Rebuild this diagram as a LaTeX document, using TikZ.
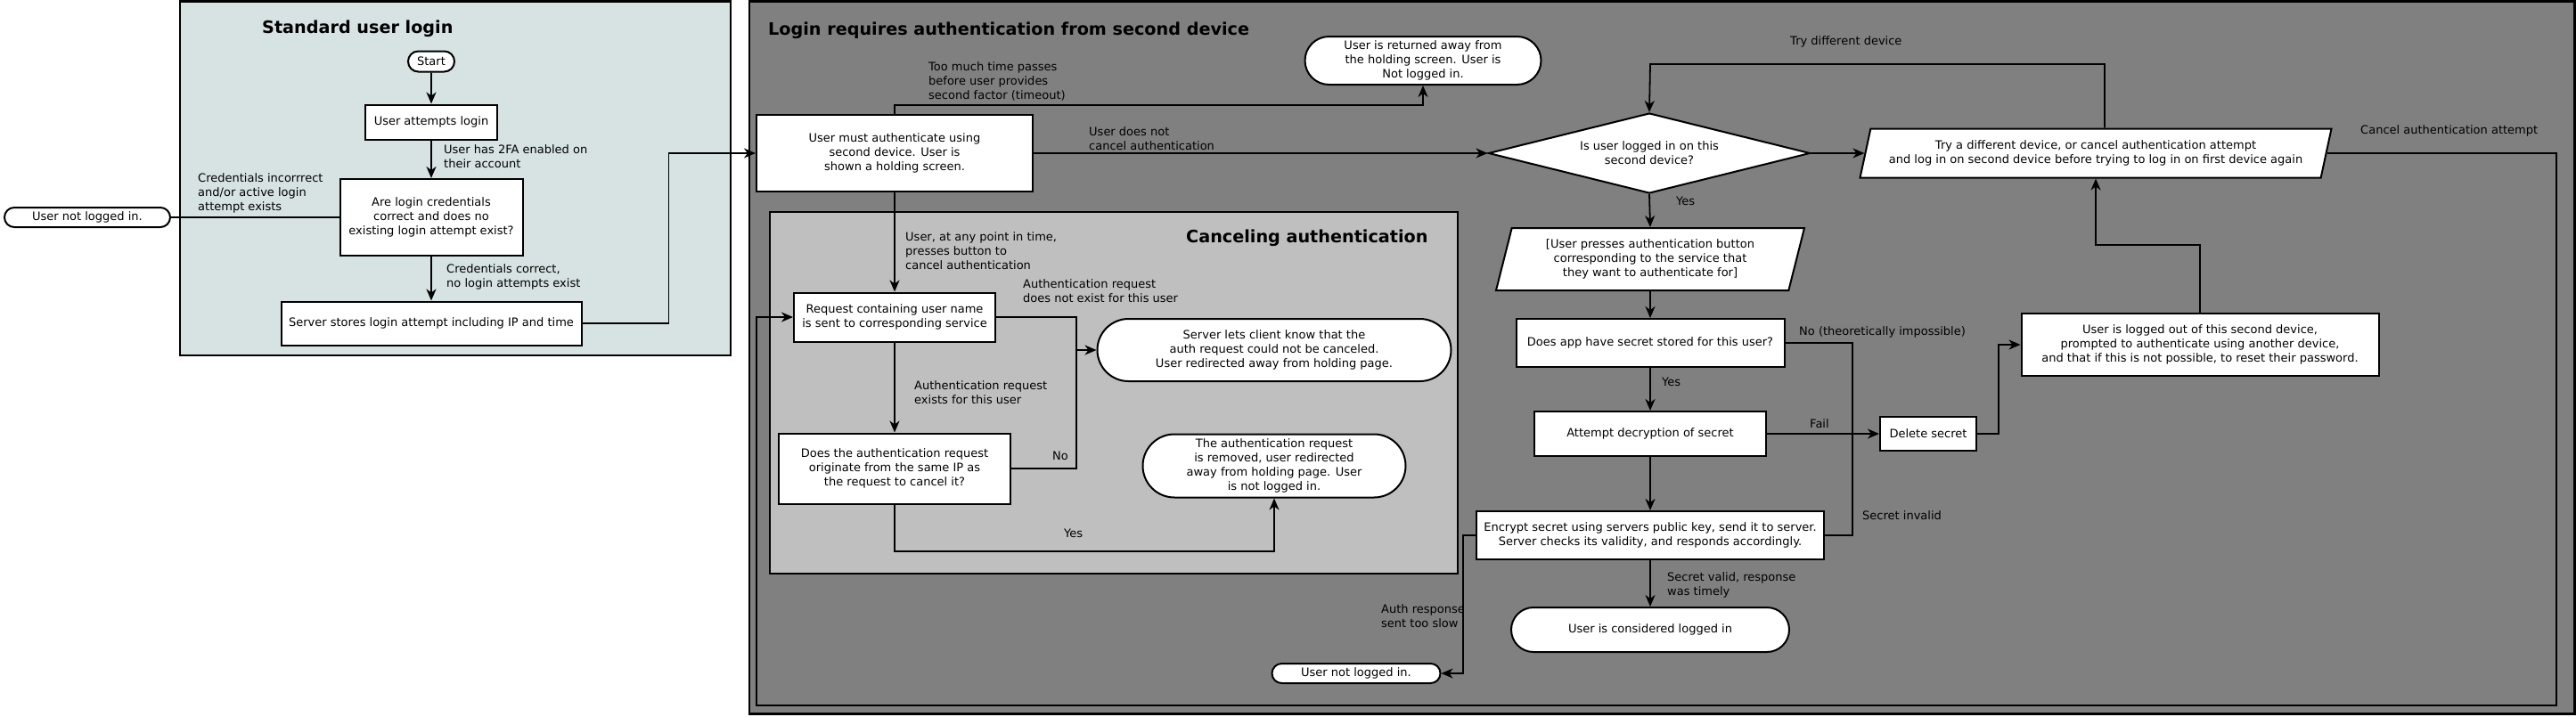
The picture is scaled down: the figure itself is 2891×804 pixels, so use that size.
\documentclass[tikz,border=0pt]{standalone}
\usepackage{fontspec}
\setmainfont{DejaVu Sans}
\usetikzlibrary{positioning,shapes.geometric,shapes.misc,arrows.meta}
\definecolor{loginbg}{RGB}{214,227,226}
\definecolor{secondbg}{RGB}{128,128,128}
\definecolor{cancelbg}{RGB}{191,191,191}
\begin{document}
\begin{tikzpicture}[x=1pt,y=-1pt,
	every node/.style={font=\fontsize{13}{16}\selectfont},
	proc/.style={rectangle,draw,fill=white,line width=2pt,align=center,inner sep=2pt},
	term/.style={rounded rectangle,draw,fill=white,line width=2pt,align=center,inner sep=2pt},
	decision/.style={diamond,draw,fill=white,line width=2pt,align=center,aspect=4,inner sep=1pt},
	inout/.style={trapezium,trapezium left angle=70,trapezium right angle=110,trapezium stretches body,draw,fill=white,line width=2pt,align=center,inner sep=2pt},
	note/.style={anchor=west,align=left,inner sep=0pt},
	heading/.style={anchor=west,inner sep=0pt,font=\fontsize{19.2}{23}\selectfont\bfseries},
	flow/.style={line width=1.8pt,-{Stealth[length=13pt,width=11pt,inset=4pt]}},
	link/.style={line width=1.8pt}]
\useasboundingbox (0,0) rectangle (2891,804);

\draw[line width=2.5pt,fill=loginbg] (202,1.5) rectangle (820,399);
\draw[line width=2.5pt,fill=secondbg] (841,1.5) rectangle (2889.5,801.5);
\draw[line width=2.5pt,fill=cancelbg] (864,238) rectangle (1636,644);

\node[heading] at (294,32) {Standard user login};
\node[heading] at (862,34) {Login requires authentication from second device};
\node[heading] at (1331,267) {Canceling authentication};

\node[term,minimum width=56,minimum height=23] (start) at (484,69) {Start};
\node[proc,minimum width=148,minimum height=39] (attempt) at (484,137) {User attempts login};
\node[proc,minimum width=205,minimum height=86] (creds) at (484,244) {Are login credentials\\correct and does no\\existing login attempt exist?};
\node[proc,minimum width=337,minimum height=49] (stores) at (484,363) {Server stores login attempt including IP and time};
\node[term,minimum width=190,minimum height=22] (failA) at (98,244) {User not logged in.};

\node[proc,minimum width=310,minimum height=86] (holding) at (1004,172) {User must authenticate using\\second device. User is\\shown a holding screen.};
\node[term,minimum width=269,minimum height=54] (returned) at (1597,68) {User is returned away from\\the holding screen. User is\\Not logged in.};
\node[proc,minimum width=226,minimum height=55] (request) at (1004,356) {Request containing user name\\is sent to corresponding service};
\node[term,minimum width=401,minimum height=70] (nocancel) at (1430,393) {Server lets client know that the\\auth request could not be canceled.\\User redirected away from holding page.};
\node[proc,minimum width=260,minimum height=79] (sameip) at (1004,526) {Does the authentication request\\originate from the same IP as\\the request to cancel it?};
\node[term,minimum width=299,minimum height=71] (removed) at (1430,523) {The authentication request\\is removed, user redirected\\away from holding page. User\\is not logged in.};

\node[decision,minimum width=361,minimum height=90] (onsecond) at (1851,172) {Is user logged in on this\\second device?};
\node[inout,minimum width=529,minimum height=55] (tryother) at (2352,172) {Try a different device, or cancel authentication attempt\\and log in on second device before trying to log in on first device again};
\node[inout,minimum width=346,minimum height=70] (presses) at (1852,291) {[User presses authentication button\\corresponding to the service that\\they want to authenticate for]};
\node[proc,minimum width=301,minimum height=54] (hassecret) at (1852,385) {Does app have secret stored for this user?};
\node[proc,minimum width=260,minimum height=50] (decrypt) at (1852,487) {Attempt decryption of secret};
\node[proc,minimum width=108,minimum height=38] (delete) at (2164,487) {Delete secret};
\node[proc,minimum width=401,minimum height=70] (loggedout) at (2469,387) {User is logged out of this second device,\\prompted to authenticate using another device,\\and that if this is not possible, to reset their password.};
\node[proc,minimum width=390,minimum height=54] (encrypt) at (1852,601) {Encrypt secret using servers public key, send it to server.\\Server checks its validity, and responds accordingly.};
\node[term,minimum width=316,minimum height=50] (success) at (1852,707) {User is considered logged in};
\node[term,minimum width=193,minimum height=22] (failB) at (1522,756) {User not logged in.};

\coordinate (timeout) at (1004,118);
\coordinate (retry) at (1852,72);
\coordinate (aroundA) at (2869,792);
\coordinate (aroundB) at (849,792);
\coordinate (nojoin) at (1208,393);
\coordinate (yesturn) at (1004,619);
\coordinate (secjoin) at (2079,487);
\coordinate (backup) at (2352,275);

\draw[flow] (start) -- (attempt);
\draw[flow] (attempt) -- (creds);
\draw[link] (creds.west) -- (failA.east);
\draw[flow] (creds) -- (stores);
\draw[flow] (stores.east) -- ++(97,0) |- (holding.west);

\draw[flow] (holding.north) -- (timeout) -| (returned.south);
\draw[flow] (holding.east) -- (onsecond.west);
\draw[flow] (holding.south) -- (request.north);
\draw[flow] (request.east) -| (nojoin) -- (nocancel.west);
\draw[link] (sameip.east) -| (nojoin);
\draw[flow] (request.south) -- (sameip.north);
\draw[flow] (sameip.south) -- (yesturn) -| (removed.south);

\draw[flow] (onsecond.east) -- (tryother.west);
\draw[flow] ([xshift=10pt]tryother.north) |- (retry) -- (onsecond.north);
\draw[flow] (tryother.east) -| (aroundA) -- (aroundB) |- (request.west);
\draw[flow] (onsecond.south) -- (presses.north);
\draw[flow] (presses.south) -- (hassecret.north);
\draw[flow] (hassecret.south) -- (decrypt.north);
\draw[flow] (decrypt.south) -- (encrypt.north);
\draw[flow] (encrypt.south) -- (success.north);
\draw[flow] (decrypt.east) -- (delete.west);
\draw[link] (hassecret.east) -| (secjoin);
\draw[link] (encrypt.east) -| (secjoin);
\draw[flow] (delete.east) -- ++(24,0) |- (loggedout.west);
\draw[flow] (loggedout.north) |- (backup) -- (tryother.south);
\draw[flow] (encrypt.west) -- ++(-14,0) |- (failB.east);

\node[note] at (498,176) {User has 2FA enabled on\\their account};
\node[note] at (222,217) {Credentials incorrrect\\and/or active login\\attempt exists};
\node[note] at (501,311) {Credentials correct,\\no login attempts exist};
\node[note] at (1042,91) {Too much time passes\\before user provides\\second factor (timeout)};
\node[note] at (1222,156) {User does not\\cancel authentication};
\node[note] at (1016,282) {User, at any point in time,\\presses button to\\cancel authentication};
\node[note] at (1148,327) {Authentication request\\does not exist for this user};
\node[note] at (1026,441) {Authentication request\\exists for this user};
\node[note] at (1181,512) {No};
\node[note] at (1194,599) {Yes};
\node[note] at (1550,692) {Auth response\\sent too slow};
\node[note] at (2009,47) {Try different device};
\node[note] at (2649,147) {Cancel authentication attempt};
\node[note] at (1881,226) {Yes};
\node[note] at (2019,373) {No (theoretically impossible)};
\node[note] at (1865,429) {Yes};
\node[note] at (2031,476) {Fail};
\node[note] at (2090,579) {Secret invalid};
\node[note] at (1871,657) {Secret valid, response\\was timely};
\end{tikzpicture}
\end{document}
